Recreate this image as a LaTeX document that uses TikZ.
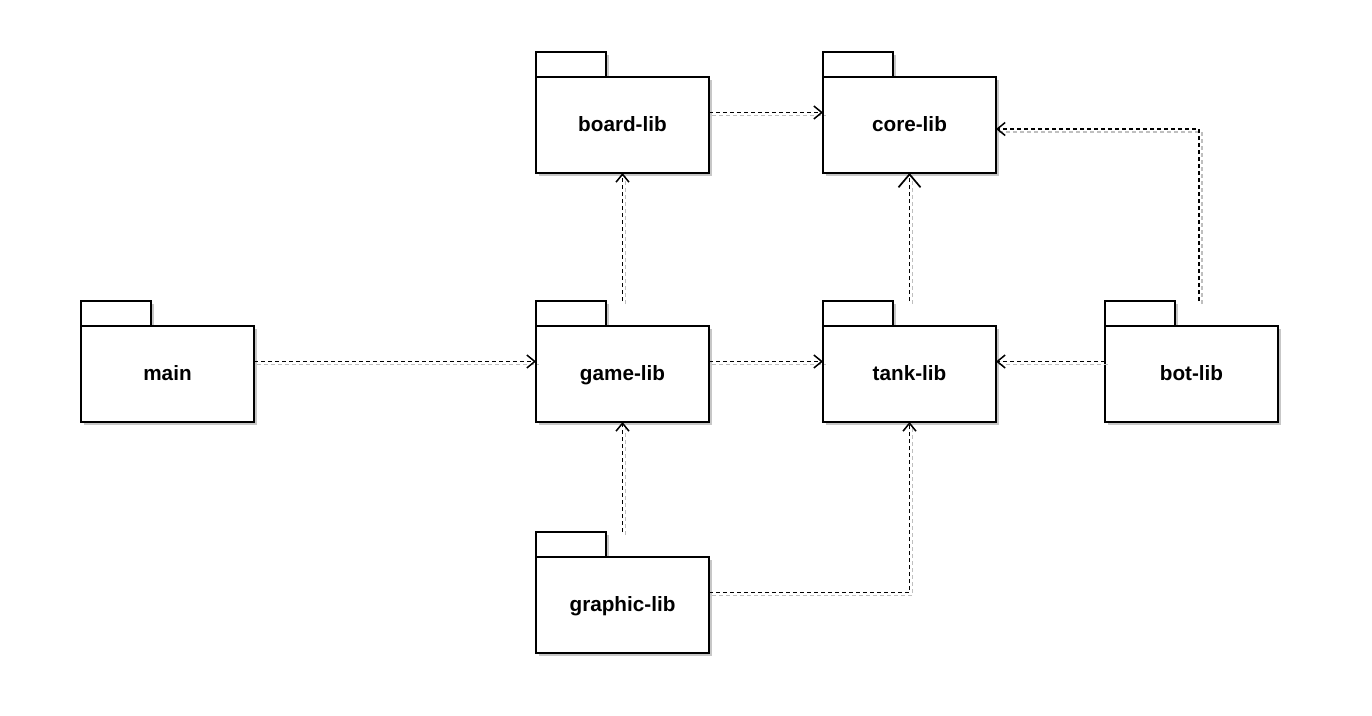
\documentclass[tikz,border=0pt]{standalone}
\usepackage{fontspec}
\setmainfont{Liberation Sans}
\usetikzlibrary{arrows.meta,shadows}
\tikzset{
  pkgframe/.style={minimum width=173pt,minimum height=121pt,inner sep=0pt,outer sep=0pt},
  pkgline/.style={draw=black,line width=1.4pt,fill=white,
    drop shadow={shadow xshift=3pt,shadow yshift=-3pt,opacity=1,fill=black!22}},
  pkgbody/.style={pkgline,minimum width=173pt,minimum height=96pt,inner sep=0pt,outer sep=0pt,
    text height=15pt,text depth=3pt,
    font=\fontsize{20.7}{24}\selectfont\bfseries},
  dep/.style={draw=black,line width=1.8pt,dash pattern=on 4pt off 3pt,
    -{Straight Barb[length=8pt,width=13pt,line width=1.5pt]}},
  depbig/.style={dep,-{Straight Barb[length=13pt,width=22pt,line width=1.7pt]}},
  depshadow/.style={draw=black!25,line width=1.6pt,dash pattern=on 4pt off 3pt,
    transform canvas={shift={(3pt,-3pt)}}}
}
\newcommand\pkgbox[4]{%
  \node[pkgframe] (#1) at (#2+86.5,#3+60.5) {};
  \path[pkgline] (#1.north west) rectangle ++(70,25);
  \node[pkgbody,anchor=south west] (#1-b) at (#1.south west) {#4};
}
\begin{document}
\begin{tikzpicture}[x=1pt,y=-1pt]
\useasboundingbox (0,0) rectangle (1372,715);
\pkgbox{board}{536}{52}{board-lib}
\pkgbox{core}{823}{52}{core-lib}
\pkgbox{main}{81}{301}{main}
\pkgbox{game}{536}{301}{game-lib}
\pkgbox{tank}{823}{301}{tank-lib}
\pkgbox{bot}{1105}{301}{bot-lib}
\pkgbox{graphic}{536}{532}{graphic-lib}
% connector shadows
\path[depshadow] (board.east) -- (core.west);
\path[depshadow] ([xshift=7.5pt]bot.north) |- ([yshift=-16.5pt]core.east);
\path[depshadow] (game.north) -- (board.south);
\path[depshadow] (tank.north) -- (core.south);
\path[depshadow] (main.east) -- (game.west);
\path[depshadow] (game.east) -- (tank.west);
\path[depshadow] (bot.west) -- (tank.east);
\path[depshadow] (graphic.north) -- (game.south);
\path[depshadow] (graphic.east) -| (tank.south);
% connectors
\path[dep] (board.east) -- (core.west);
\path[dep] ([xshift=7.5pt]bot.north) |- ([yshift=-16.5pt]core.east);
\path[dep] (game.north) -- (board.south);
\path[depbig] (tank.north) -- (core.south);
\path[dep] (main.east) -- (game.west);
\path[dep] (game.east) -- (tank.west);
\path[dep] (bot.west) -- (tank.east);
\path[dep] (graphic.north) -- (game.south);
\path[dep] (graphic.east) -| (tank.south);
\end{tikzpicture}
\end{document}
